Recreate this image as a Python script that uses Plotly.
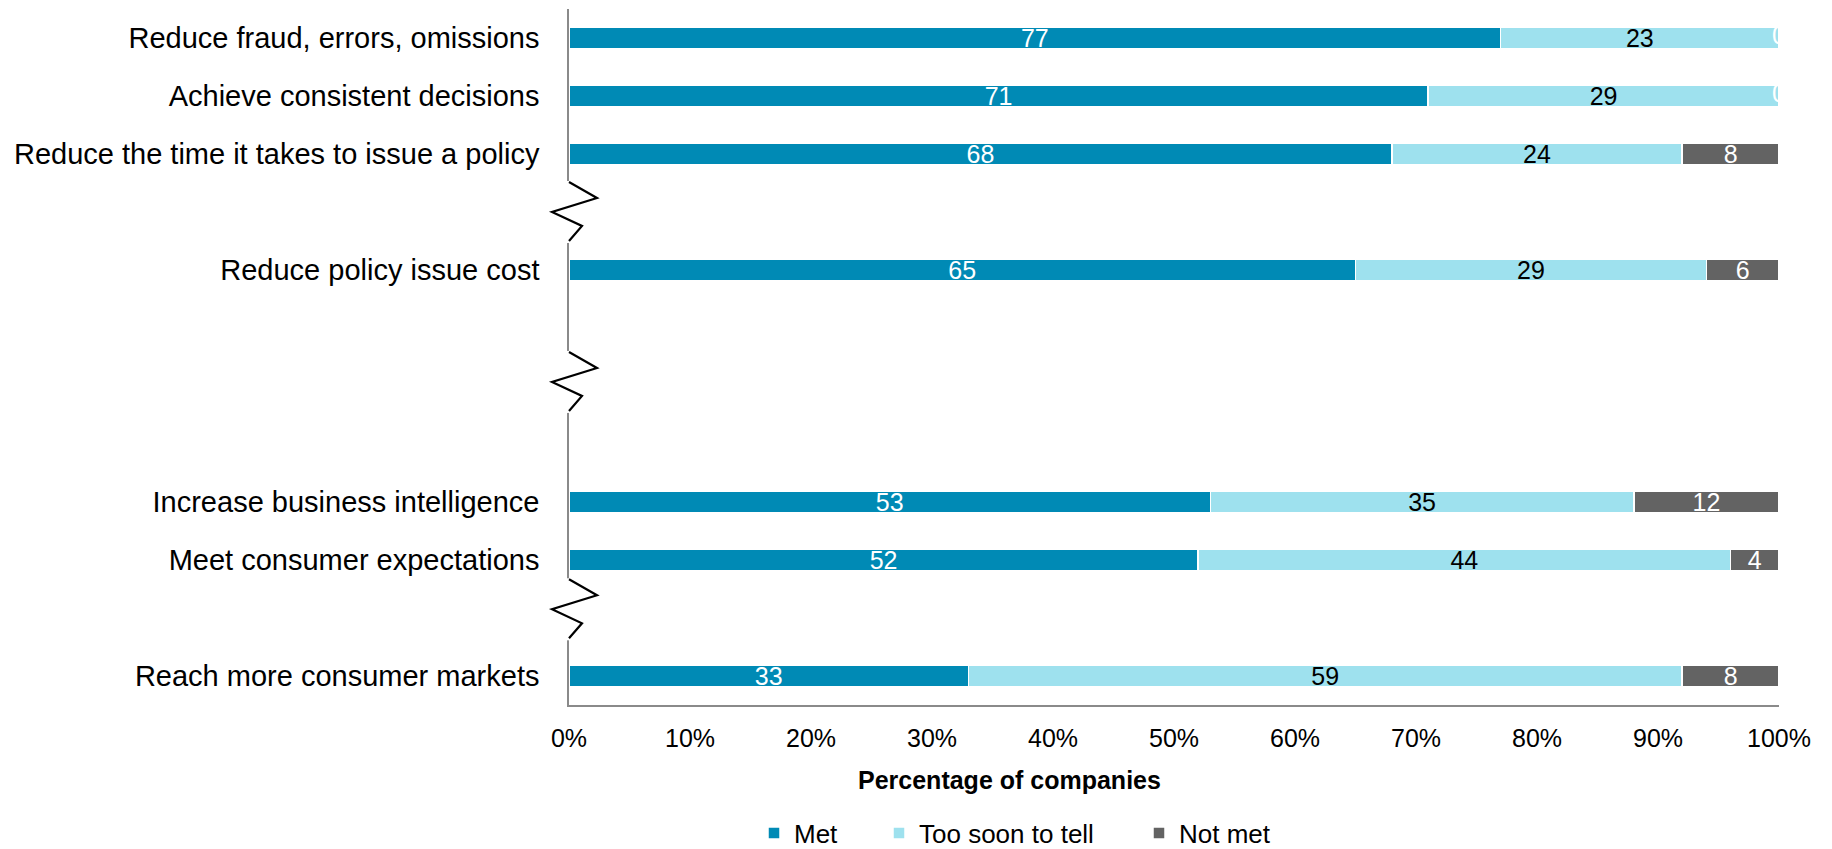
import plotly.graph_objects as go

# ---- data ----
categories = [
    "Reduce fraud, errors, omissions",
    "Achieve consistent decisions",
    "Reduce the time it takes to issue a policy",
    " ",
    "Reduce policy issue cost",
    "  ",
    "   ",
    "    ",
    "Increase business intelligence",
    "Meet consumer expectations",
    "     ",
    "Reach more consumer markets",
]
bar_categories = [
    "Reduce fraud, errors, omissions",
    "Achieve consistent decisions",
    "Reduce the time it takes to issue a policy",
    "Reduce policy issue cost",
    "Increase business intelligence",
    "Meet consumer expectations",
    "Reach more consumer markets",
]
met = [77, 71, 68, 65, 53, 52, 33]
too_soon = [23, 29, 24, 29, 35, 44, 59]
not_met = [0, 0, 8, 6, 12, 4, 8]
series_names = ["Met", "Too soon to tell", "Not met"]
x_ticks = [0, 10, 20, 30, 40, 50, 60, 70, 80, 90, 100]
x_tick_labels = ["0%", "10%", "20%", "30%", "40%", "50%", "60%", "70%", "80%", "90%", "100%"]
axis_breaks = [3, 5.93, 9.85]  # category-slot positions of the break marks

# ---- style ----
FONT = "Liberation Sans, Arial, sans-serif"
C_MET = "#008AB5"
C_SOON = "#9EE1EE"
C_NOT = "#636363"
PLOT_L, PLOT_W = 569, 1210
PLOT_B, PLOT_H = 705, 696

def px_x(px):
    return (px - PLOT_L) / PLOT_W

def px_y(py):
    return (PLOT_B - py) / PLOT_H

fig = go.Figure()

def labels(vals):
    return [str(v) if v > 0 else "" for v in vals]

legend_ids = ["legend", "legend2", "legend3"]
for name, vals, color, tcolor, lg in [
    (series_names[0], met, C_MET, "white", legend_ids[0]),
    (series_names[1], too_soon, C_SOON, "black", legend_ids[1]),
    (series_names[2], not_met, C_NOT, "white", legend_ids[2]),
]:
    fig.add_trace(go.Bar(
        name=name, y=bar_categories, x=vals, orientation="h",
        marker=dict(color=color, line=dict(color="white", width=1.5)),
        text=labels(vals), textposition="inside", insidetextanchor="middle",
        textangle=0, constraintext="none",
        insidetextfont=dict(family=FONT, size=25, color=tcolor),
        hoverinfo="x+y+name", legend=lg,
    ))

# zero-value "Not met" labels shown at the right edge (clipped like the original)
zero_cats = [c for c, v in zip(bar_categories, not_met) if v == 0]
cum_end = [m + s + n for m, s, n in zip(met, too_soon, not_met) if n == 0]
fig.add_trace(go.Scatter(
    x=cum_end, y=zero_cats, mode="text", text=["0"] * len(zero_cats),
    textposition="middle center", textfont=dict(family=FONT, size=25, color="white"),
    cliponaxis=True, showlegend=False, hoverinfo="skip",
))

# axis break marks
shapes = []
for b in axis_breaks:
    shapes.append(dict(
        type="line", xref="paper", yref="y", xsizemode="pixel", ysizemode="pixel",
        xanchor=0, yanchor=b, x0=0, x1=0, y0=-31, y1=31,
        line=dict(color="white", width=4), layer="above",
    ))
    shapes.append(dict(
        type="path", xref="paper", yref="y", xsizemode="pixel", ysizemode="pixel",
        xanchor=0, yanchor=b,
        path="M0,30 L28,14 L-17,0 L13,-14 L0,-29",
        line=dict(color="black", width=2.2), layer="above",
    ))

leg_common = dict(orientation="h", xanchor="left", yanchor="middle", y=px_y(833),
                  font=dict(family=FONT, size=26, color="black"), borderwidth=0,
                  bgcolor="rgba(0,0,0,0)")

fig.update_layout(
    width=1832, height=849,
    margin=dict(l=PLOT_L, r=1832 - PLOT_L - PLOT_W, t=PLOT_B - PLOT_H, b=849 - PLOT_B,
                autoexpand=False),
    barmode="stack", bargap=0.62,
    plot_bgcolor="white", paper_bgcolor="white",
    font=dict(family=FONT, size=25, color="black"),
    showlegend=True,
    legend=dict(x=px_x(754), **leg_common),
    legend2=dict(x=px_x(879), **leg_common),
    legend3=dict(x=px_x(1139), **leg_common),
    shapes=shapes,
    annotations=[dict(
        text="<b>Percentage of companies</b>", xref="paper", yref="paper",
        x=px_x(1009), y=px_y(780), xanchor="center", yanchor="middle", showarrow=False,
        font=dict(family=FONT, size=25, color="black"),
    )],
)
fig.update_xaxes(
    range=[0, 100], tickvals=x_ticks, ticktext=x_tick_labels,
    showgrid=False, zeroline=False, showline=True, linecolor="#8A8A8A", linewidth=1.5,
    ticks="outside", ticklen=10, tickcolor="rgba(0,0,0,0)",
    tickfont=dict(family=FONT, size=25, color="black"),
)
fig.update_yaxes(
    type="category", categoryorder="array", categoryarray=categories,
    range=[len(categories) - 0.5, -0.5],
    showgrid=False, zeroline=False, showline=True, linecolor="#8A8A8A", linewidth=1.5,
    ticks="outside", ticklen=22, tickcolor="rgba(0,0,0,0)",
    tickfont=dict(family=FONT, size=29, color="black"),
)

fig.write_html("out.html")
